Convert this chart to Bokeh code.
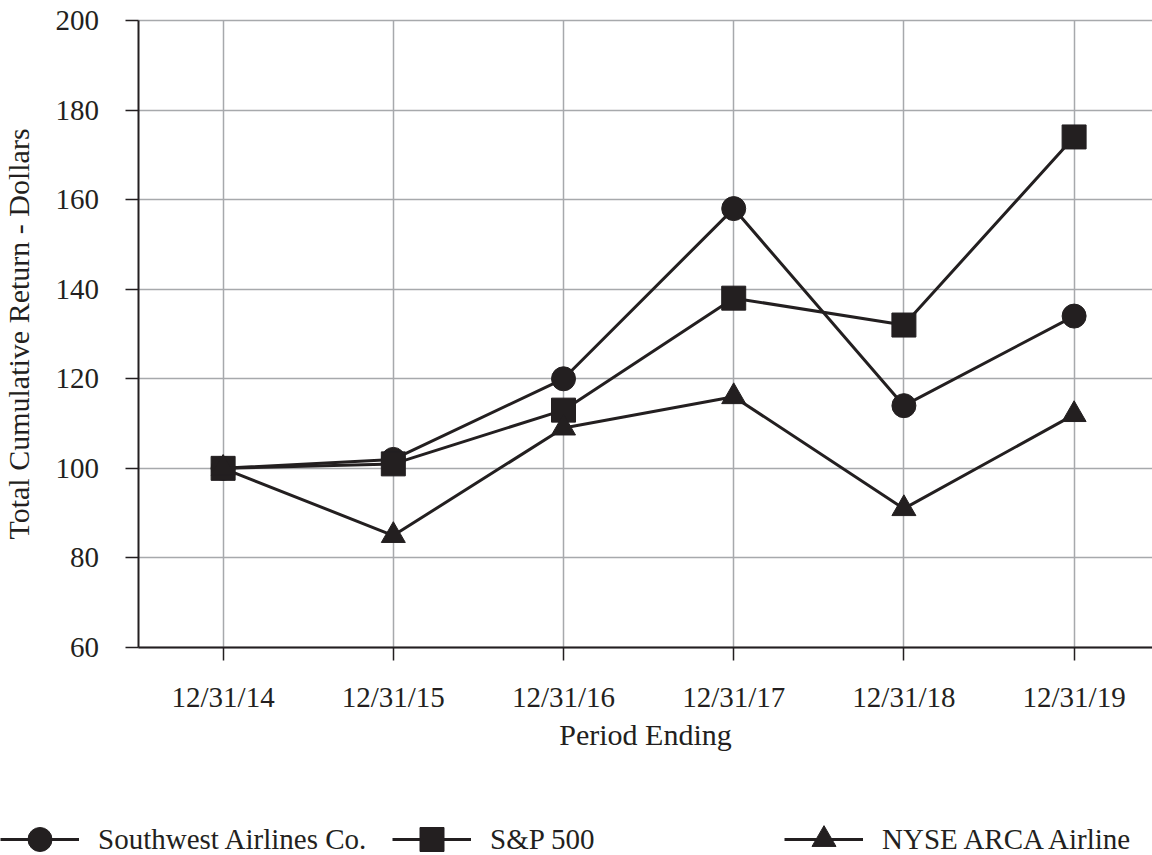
from bokeh.plotting import figure
from bokeh.models import Range1d, FixedTicker, Legend, LegendItem, LinearAxis, Grid
from bokeh.embed import file_html
from bokeh.resources import INLINE

periods = ["12/31/14", "12/31/15", "12/31/16", "12/31/17", "12/31/18", "12/31/19"]
southwest = [100, 102, 120, 158, 114, 134]
sp500 = [100, 101, 113, 138, 132, 174]
nyse_arca = [100, 85, 109, 116, 91, 112]
y_ticks = [60, 80, 100, 120, 140, 160, 180, 200]

xs = list(range(len(periods)))
INK = "#231f20"
GRID = "#a7a9ac"
FONT = "Liberation Serif"

# frame covers the whole canvas; axes sit at fixed locations inside it
X_LO, X_HI = -1.308, 5.4606
Y_LO, Y_HI = 13.556, 204.466
X_AXIS_AT, Y_AXIS_AT = 60, -0.5

p = figure(width=1152, height=855, output_backend="svg", toolbar_location=None,
           x_range=Range1d(X_LO, X_HI), y_range=Range1d(Y_LO, Y_HI),
           x_axis_type=None, y_axis_type=None,
           min_border_left=0, min_border_right=0, min_border_top=0, min_border_bottom=0)
p.outline_line_color = None
p.background_fill_color = "white"
p.border_fill_color = "white"

xaxis = LinearAxis(fixed_location=X_AXIS_AT, ticker=FixedTicker(ticks=xs),
                   bounds=(Y_AXIS_AT, X_HI),
                   major_label_overrides={i: s for i, s in enumerate(periods)})
yaxis = LinearAxis(fixed_location=Y_AXIS_AT, ticker=FixedTicker(ticks=y_ticks),
                   bounds=(min(y_ticks), max(y_ticks)))
for ax in (xaxis, yaxis):
    ax.axis_line_color = INK
    ax.axis_line_width = 2
    ax.major_tick_line_color = INK
    ax.major_tick_line_width = 1.5
    ax.major_tick_in = 0
    ax.major_tick_out = 13
    ax.minor_tick_line_color = None
    ax.major_label_text_font = FONT
    ax.major_label_text_font_size = "29px"
    ax.major_label_text_color = INK
    ax.axis_label_text_font = FONT
    ax.axis_label_text_font_size = "30px"
    ax.axis_label_text_color = INK
    ax.axis_label_text_font_style = "normal"
xaxis.major_label_standoff = 21
yaxis.major_label_standoff = 26
xaxis.axis_label = "Period Ending"
xaxis.axis_label_standoff = 1
yaxis.axis_label = "Total Cumulative Return - Dollars"
yaxis.axis_label_standoff = 18

# grid lines limited to the plotting area
if "cross_bounds" in Grid.properties():
    xgrid = Grid(dimension=0, ticker=FixedTicker(ticks=xs),
                 cross_bounds=(min(y_ticks), max(y_ticks)),
                 grid_line_color=GRID, grid_line_width=1.5)
    ygrid = Grid(dimension=1, ticker=FixedTicker(ticks=y_ticks),
                 cross_bounds=(Y_AXIS_AT, X_HI),
                 grid_line_color=GRID, grid_line_width=1.5)
    p.add_layout(xgrid)
    p.add_layout(ygrid)
else:
    p.segment(x0=xs, x1=xs, y0=[min(y_ticks)] * len(xs), y1=[max(y_ticks)] * len(xs),
              line_color=GRID, line_width=1.5, level="underlay")
    p.segment(x0=[Y_AXIS_AT] * len(y_ticks), x1=[X_HI] * len(y_ticks), y0=y_ticks, y1=y_ticks,
              line_color=GRID, line_width=1.5, level="underlay")

p.add_layout(xaxis, "below")
p.add_layout(yaxis, "left")

series = [
    ("Southwest Airlines Co.", southwest, "circle", 24),
    ("S&P 500", sp500, "square", 24),
    ("NYSE ARCA Airline", nyse_arca, "triangle", 24),
]
items = []
for name, ys, marker, size in series:
    lr = p.line(xs, ys, line_color=INK, line_width=3)
    sr = p.scatter(xs, ys, marker=marker, size=size, fill_color=INK, line_color=INK, line_width=1)
    items.append(LegendItem(label=name, renderers=[lr, sr]))

legend = Legend(items=items, orientation="horizontal", location=(0, -14),
                glyph_width=79, glyph_height=60, label_standoff=19, label_width=270,
                spacing=24, padding=0, margin=0, border_line_color=None,
                background_fill_alpha=0, label_text_font=FONT,
                label_text_font_size="29px", label_text_color=INK)
p.add_layout(legend, "center")

open("out.html", "w").write(file_html(p, INLINE))
